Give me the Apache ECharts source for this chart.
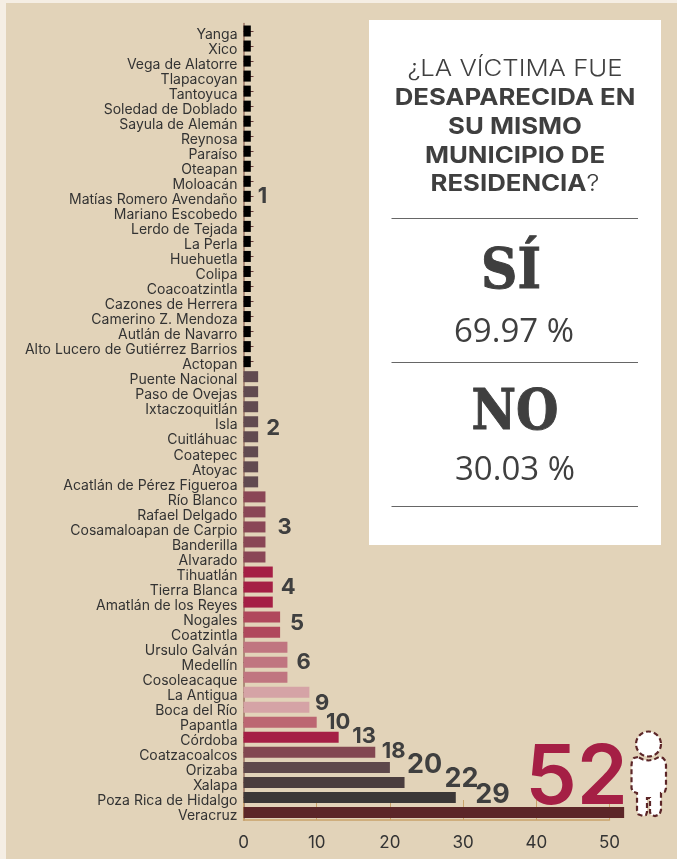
<!DOCTYPE html>
<html><head><meta charset="utf-8">
<script src="https://cdn.jsdelivr.net/npm/echarts@6/dist/echarts.min.js"></script>
<style>html,body{margin:0;padding:0;background:#F5EEE4}#c{width:677px;height:859px}</style>
</head><body><div id="c"></div>
<script>
const municipios = ["Yanga","Xico","Vega de Alatorre","Tlapacoyan","Tantoyuca","Soledad de Doblado","Sayula de Alemán","Reynosa","Paraíso","Oteapan","Moloacán","Matías Romero Avendaño","Mariano Escobedo","Lerdo de Tejada","La Perla","Huehuetla","Colipa","Coacoatzintla","Cazones de Herrera","Camerino Z. Mendoza","Autlán de Navarro","Alto Lucero de Gutiérrez Barrios","Actopan","Puente Nacional","Paso de Ovejas","Ixtaczoquitlán","Isla","Cuitláhuac","Coatepec","Atoyac","Acatlán de Pérez Figueroa","Río Blanco","Rafael Delgado","Cosamaloapan de Carpio","Banderilla","Alvarado","Tihuatlán","Tierra Blanca","Amatlán de los Reyes","Nogales","Coatzintla","Ursulo Galván","Medellín","Cosoleacaque","La Antigua","Boca del Río","Papantla","Córdoba","Coatzacoalcos","Orizaba","Xalapa","Poza Rica de Hidalgo","Veracruz"];
const victimas = [1,1,1,1,1,1,1,1,1,1,1,1,1,1,1,1,1,1,1,1,1,1,1,2,2,2,2,2,2,2,2,3,3,3,3,3,4,4,4,5,5,6,6,6,9,9,10,13,18,20,22,29,52];
const xTicks = [0,10,20,30,40,50];
const respuestaSi = "69.97 %";
const respuestaNo = "30.03 %";

const colorByValue = {1:'#000000',2:'#614A50',3:'#8A4656',4:'#A51F45',5:'#B0485C',6:'#C07580',9:'#D5A3A6',10:'#BC6672',13:'#A51F45',18:'#834751',20:'#5E484B',22:'#4A3D3E',29:'#3B3737',52:'#5C2628'};
// label placement: municipality -> [dx, dy, fontSize]
const labelStyle = {
 "Matías Romero Avendaño":[7,0,22],"Isla":[8,6.5,22],"Cosamaloapan de Carpio":[12,0,22],"Tierra Blanca":[8,0,22],
 "Nogales":[10,6.5,22],"Medellín":[9,0,22],"Boca del Río":[5.6,-3.6,22],"Papantla":[9.3,0,22],"Córdoba":[13.6,-1,22],
 "Coatzacoalcos":[6.4,-1,22],"Orizaba":[17,-2.7,27],"Xalapa":[40,-3.3,27],"Poza Rica de Hidalgo":[19.5,-2.3,27],"Veracruz":[-99,-33,82]
};
const INK='#3F3F3F', FONT='Inter';
const barData = victimas.map((v,i)=>{
  const ls = labelStyle[municipios[i]];
  return {value:v,itemStyle:{color:colorByValue[v]},
    label: ls ? {show:true,position:'right',distance:0,offset:[ls[0],ls[1]],fontSize:ls[2],fontWeight:ls[2]>50?600:700,
      fontFamily:FONT,color:ls[2]>50?'#A51F45':INK,formatter:String(v)} : {show:false}};
});
const titleText = (t,y,w)=>({type:'text',z:11,x:515,y:y,scaleX:1.12,style:{text:t,fontFamily:FONT,fontSize:23,fontWeight:w,fill:INK,align:'center',verticalAlign:'middle'}});
const hr = y=>({type:'line',z:11,shape:{x1:391.5,y1:y,x2:638,y2:y},style:{stroke:'#666666',lineWidth:1}});
const personBody = [[638,757],[634,758],[632,761],[631.5,765],[631.5,788],[632.5,791.5],[637,793],[637,810],[638.5,814.5],[643,816],[646,815],[647,812],[647,798],[650,798],[650,812],[651,815],[655,816],[659.5,814.5],[661,810],[661,793],[665,791.5],[666,788],[666,765],[665.5,761],[663,758],[659,757],[654,759.5],[648.5,760.5],[643,759.5]];
const chart = echarts.init(document.getElementById('c'),null,{renderer:'canvas'});
chart.setOption({
  animation:false,
  grid:{left:243.5,top:23.5,width:366,height:796.5,containLabel:false},
  xAxis:{type:'value',min:0,max:50,interval:10,
    axisLine:{show:true,lineStyle:{color:'#C9A36A',width:1.5}},
    axisTick:{show:true,inside:true,length:20,lineStyle:{color:'#C9A36A',width:1}},
    axisLabel:{margin:14,fontSize:17,fontFamily:FONT,color:'#333333',customValues:xTicks},
    splitLine:{show:false}},
  yAxis:{type:'category',inverse:true,data:municipios,
    axisLine:{show:true,lineStyle:{color:'#9B7463',width:1.5}},
    axisTick:{show:true,inside:true,alignWithLabel:true,length:10,lineStyle:{color:'#6B3B3B',width:1}},
    axisLabel:{interval:0,margin:6,fontSize:14,fontFamily:FONT,color:'#333333',verticalAlign:'top',lineHeight:7}},
  series:[{type:'bar',data:barData,barWidth:11,clip:false,z:3}],
  graphic:[
    {type:'rect',z:-10,silent:true,shape:{x:6,y:3,width:671,height:856},style:{fill:'#E2D3B9'}},
    {type:'rect',z:10,shape:{x:369,y:20,width:292,height:525},style:{fill:'#FFFFFF'}},
    titleText('¿LA VÍCTIMA FUE',69.5,300),
    titleText('DESAPARECIDA EN',98.5,700),
    titleText('SU MISMO',127,700),
    titleText('MUNICIPIO DE',156,700),
    {type:'text',z:11,x:515,y:184.5,scaleX:1.12,style:{text:'{b|RESIDENCIA}{l|?}',align:'center',verticalAlign:'middle',
      rich:{b:{fontFamily:FONT,fontSize:23,fontWeight:700,fill:INK},l:{fontFamily:FONT,fontSize:23,fontWeight:300,fill:INK}}}},
    hr(218.5),hr(362.5),hr(506.5),
    {type:'text',z:11,x:511,y:273,scaleX:.9,style:{text:'SÍ',fontFamily:'DejaVu Serif',fontWeight:700,fontSize:56,fill:INK,stroke:INK,lineWidth:1,align:'center',verticalAlign:'middle'}},
    {type:'text',z:11,x:514,y:333,style:{text:respuestaSi,fontFamily:'Open Sans',fontSize:33,fill:INK,align:'center',verticalAlign:'middle'}},
    {type:'text',z:11,x:515,y:414,scaleX:.87,style:{text:'NO',fontFamily:'DejaVu Serif',fontWeight:700,fontSize:56,fill:INK,stroke:INK,lineWidth:1,align:'center',verticalAlign:'middle'}},
    {type:'text',z:11,x:515,y:471,style:{text:respuestaNo,fontFamily:'Open Sans',fontSize:33,fill:INK,align:'center',verticalAlign:'middle'}},
    {type:'polygon',z:12,shape:{points:personBody},style:{fill:'#FFFFFF',stroke:'#5C2628',lineWidth:2.2,lineDash:[5,3]}},
    {type:'circle',z:13,shape:{cx:648.5,cy:744,r:12.5},style:{fill:'#FFFFFF',stroke:'#5C2628',lineWidth:2.2,lineDash:[5,3]}}
  ]
});
</script></body></html>
